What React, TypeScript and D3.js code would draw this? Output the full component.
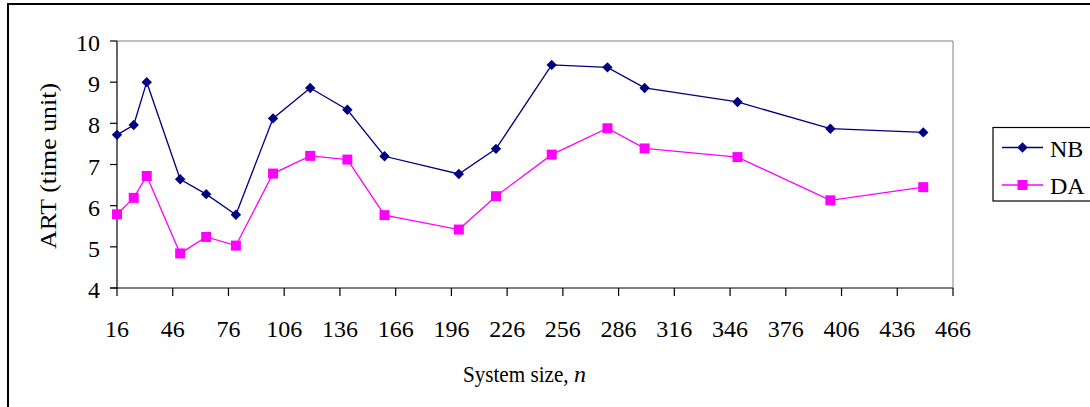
import React from "react";
import * as d3 from "d3";

// System sizes (n) at which response times were measured
const systemSizes = [16, 25, 32, 50, 64, 80, 100, 120, 140, 160, 200, 220, 250, 280, 300, 350, 400, 450];
// Average response time for each scheme
const nbValues = [7.72, 7.96, 9.0, 6.64, 6.28, 5.78, 8.12, 8.86, 8.33, 7.2, 6.77, 7.38, 9.42, 9.36, 8.86, 8.52, 7.87, 7.78];
const daValues = [5.79, 6.19, 6.72, 4.84, 5.24, 5.03, 6.78, 7.21, 7.12, 5.77, 5.42, 6.23, 7.24, 7.88, 7.39, 7.18, 6.13, 6.45];

const xTicks = d3.range(16, 467, 30);
const yTicks = [4, 5, 6, 7, 8, 9, 10];

const seriesNames = ["NB", "DA"];
const seriesColors = ["#000080", "#FF00FF"];

const W = 1090;
const H = 407;
const FONT = "'Liberation Serif', 'Times New Roman', serif";

const diamond = (r: number) => `M0,${-r}L${r},0L0,${r}L${-r},0Z`;
const square = (r: number) => `M${-r},${-r}H${r}V${r}H${-r}Z`;

export default function App() {
  const x = d3.scaleLinear().domain([16, 466]).range([117, 953]);
  const y = d3.scaleLinear().domain([4, 10]).range([288, 41]);

  const line = d3
    .line<[number, number]>()
    .x((d) => x(d[0]))
    .y((d) => y(d[1]));

  const series = [nbValues, daValues].map((vals) =>
    systemSizes.map((n, i) => [n, vals[i]] as [number, number])
  );
  const markers = [diamond(5.2), square(5)];

  const [x0, x1] = x.range();
  const [yb, yt] = y.range();

  return (
    <svg
      width={W}
      height={H}
      style={{ position: "absolute", left: 0, top: 0, background: "#fff" }}
      fontFamily={FONT}
    >
      {/* chart frame */}
      <rect x={8} y={4} width={W + 20} height={H + 20} fill="#fff" stroke="#000" strokeWidth={2} />

      {/* plot area border (top and right) */}
      <line x1={x0} x2={x1} y1={yt} y2={yt} stroke="#808080" strokeWidth={1} />
      <line x1={x1} x2={x1} y1={yt} y2={yb} stroke="#808080" strokeWidth={1} />

      {/* y axis */}
      <line x1={x0} x2={x0} y1={yt} y2={yb} stroke="#000" strokeWidth={1.2} />
      {yTicks.map((t) => (
        <g key={"y" + t}>
          <line x1={x0 - 7} x2={x0} y1={y(t)} y2={y(t)} stroke="#000" strokeWidth={1.2} />
          <text x={100} y={y(t) + 10} fontSize={24} textAnchor="end" fill="#000">
            {t}
          </text>
        </g>
      ))}

      {/* x axis */}
      <line x1={x0 - 7} x2={x1} y1={yb} y2={yb} stroke="#000" strokeWidth={1.2} />
      {xTicks.map((t) => (
        <g key={"x" + t}>
          <line x1={x(t)} x2={x(t)} y1={yb} y2={yb + 8} stroke="#000" strokeWidth={1.2} />
          <text x={x(t)} y={337} fontSize={24} textAnchor="middle" fill="#000">
            {t}
          </text>
        </g>
      ))}

      {/* axis titles */}
      <text transform="translate(463,382) scale(0.88,1)" fontSize={24} fill="#000">
        System size,
      </text>
      <text x={574} y={382} fontSize={24} fontStyle="italic" fill="#000">
        n
      </text>
      <text
        transform={`translate(56, 166) rotate(-90)`}
        fontSize={24}
        textAnchor="middle"
        textLength={166}
        lengthAdjust="spacingAndGlyphs"
        fill="#000"
      >
        ART (time unit)
      </text>

      {/* series */}
      {series.map((pts, si) => (
        <g key={seriesNames[si]}>
          <path d={line(pts) || ""} fill="none" stroke={seriesColors[si]} strokeWidth={1.3} />
          {pts.map((p, i) => (
            <path
              key={i}
              d={markers[si]}
              transform={`translate(${x(p[0])},${y(p[1])})`}
              fill={seriesColors[si]}
            />
          ))}
        </g>
      ))}

      {/* legend */}
      <rect x={993} y={127.5} width={110} height={73.5} fill="#fff" stroke="#000" strokeWidth={1.2} />
      {seriesNames.map((name, i) => {
        const ly = 147.5 + i * 37.5;
        return (
          <g key={"lg" + name}>
            <line x1={1002} x2={1043} y1={ly} y2={ly} stroke={seriesColors[i]} strokeWidth={1.3} />
            <path d={markers[i]} transform={`translate(1022.5,${ly})`} fill={seriesColors[i]} />
            <text x={1050} y={ly + 9} fontSize={24} fill="#000">
              {name}
            </text>
          </g>
        );
      })}
    </svg>
  );
}
